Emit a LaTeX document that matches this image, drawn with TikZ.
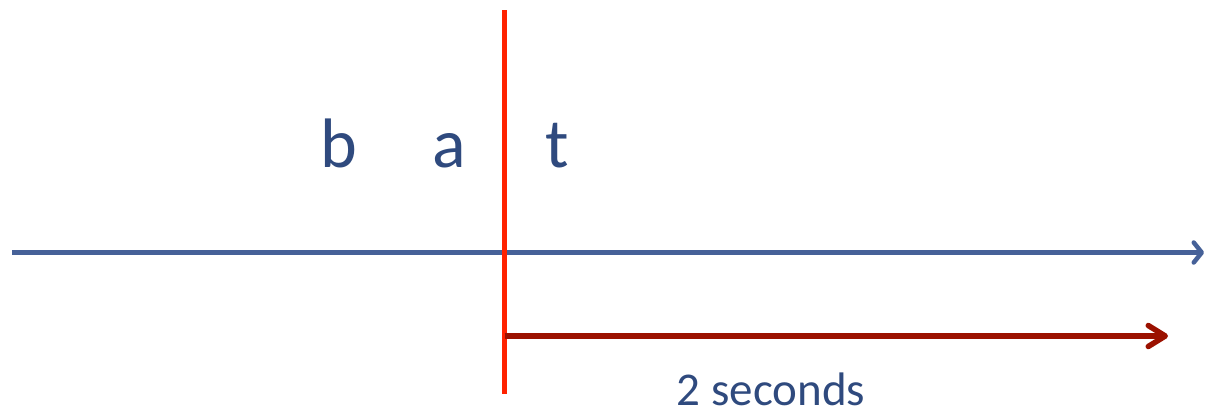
\documentclass[tikz,border=0pt]{standalone}
\usepackage{fontspec}
\setmainfont{Carlito}
\usetikzlibrary{arrows.meta}
\definecolor{axisblue}{RGB}{70,97,152}
\definecolor{textblue}{RGB}{47,74,126}
\definecolor{cutred}{RGB}{255,34,0}
\definecolor{darkred}{RGB}{155,17,0}
\tikzset{
  letter/.style={anchor=base, inner sep=0pt, text=textblue, font=\fontsize{70}{84}\selectfont},
  caption/.style={anchor=base, inner sep=0pt, text=textblue, font=\fontsize{47}{56}\selectfont},
  axis/.style={draw=axisblue, line width=4.5pt, -{Straight Barb[length=8pt, width=20pt, round]}},
  cut/.style={draw=cutred, line width=5.5pt},
  span/.style={draw=darkred, line width=5.5pt, -{Straight Barb[length=17pt, width=21pt, round]}}
}
\begin{document}
\begin{tikzpicture}[x=1pt,y=-1pt]
\useasboundingbox (0,0) rectangle (1207,410);
\coordinate (axL) at (12,252.5);
\coordinate (axR) at (1204,252.5);
\coordinate (cutT) at (504.5,10);
\coordinate (cutB) at (504.5,394);
\coordinate (spL) at (504.5,336);
\coordinate (spR) at (1168,336);
\draw[axis] (axL) -- (axR);
\draw[cut] (cutT) -- (cutB);
\draw[span] (spL) -- (spR);
\node[letter] (b) at (339,167) {b};
\node[letter] (a) at (449,167) {a};
\node[letter] (t) at (557,167) {t};
\node[caption] (sec) at (771,405) {2 seconds};
\end{tikzpicture}
\end{document}
